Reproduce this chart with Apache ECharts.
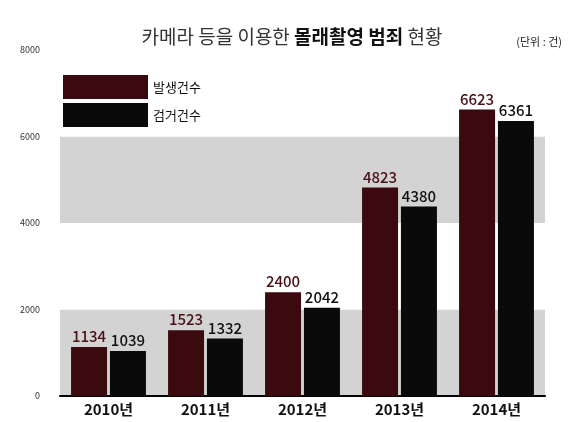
<!DOCTYPE html>
<html><head><meta charset="utf-8">
<script src="https://cdn.jsdelivr.net/npm/echarts@6/dist/echarts.min.js"></script>
<style>html,body{margin:0;padding:0;background:#fff}#c{width:584px;height:422px}</style>
</head><body><div id="c"></div>
<script>
const categories = ['2010년','2011년','2012년','2013년','2014년'];
const occurred = [1134,1523,2400,4823,6623];
const arrested = [1039,1332,2042,4380,6361];
const yTicks = [0,2000,4000,6000,8000];
const chart = echarts.init(document.getElementById('c'));
const font = '"Noto Sans CJK KR", sans-serif';
chart.setOption({
  backgroundColor:'#fff',
  textStyle:{fontFamily:font},
  title:{left:'center',top:22,text:'{a|카메라 등을 이용한 }{b|몰래촬영 범죄}{a| 현황}',
    textStyle:{rich:{a:{fontSize:19,fontWeight:'normal',color:'#333',fontFamily:font},b:{fontSize:19,fontWeight:'bold',color:'#111',fontFamily:font}}}},
  legend:{left:58,top:70,orient:'vertical',itemWidth:85,itemHeight:24,itemGap:4,
    textStyle:{fontSize:13,color:'#111'},icon:'rect',data:['발생건수','검거건수']},
  grid:{left:60,right:39,top:50,bottom:26},
  xAxis:{type:'category',data:categories,axisTick:{show:false},
    axisLine:{lineStyle:{color:'#000',width:2}},
    axisLabel:{fontSize:15,fontWeight:'bold',color:'#111',margin:6}},
  yAxis:{type:'value',min:0,max:8000,interval:2000,
    axisLabel:{fontSize:9,color:'#333',margin:20,formatter:v=>yTicks.includes(v)?String(v):''},
    splitLine:{show:false},
    splitArea:{show:true,areaStyle:{color:['#d3d3d3','#ffffff']}}},
  series:[
    {name:'발생건수',type:'bar',data:occurred,barWidth:36,barGap:'8%',
     itemStyle:{color:'#3a0a0f'},
     label:{show:true,position:'top',fontSize:15,fontWeight:500,color:'#4a1015',distance:3}},
    {name:'검거건수',type:'bar',data:arrested,barWidth:36,
     itemStyle:{color:'#0a0a0a'},
     label:{show:true,position:'top',fontSize:15,fontWeight:500,color:'#111',distance:3}}
  ],
  graphic:[{type:'text',right:22,top:36,z:100,style:{text:'(단위 : 건)',fontSize:11,fill:'#222',fontFamily:font}}]
});
</script></body></html>
